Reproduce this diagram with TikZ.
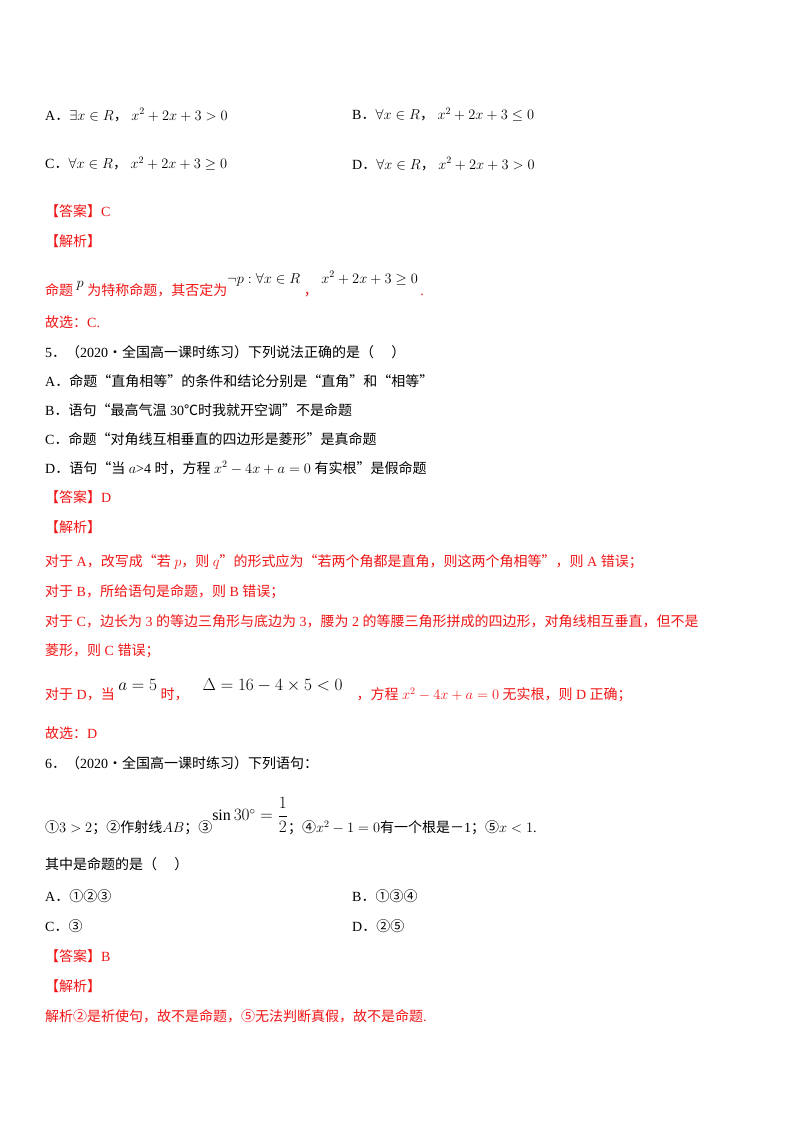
\documentclass[tikz,border=0pt]{standalone}
\usepackage{fontspec}
\setmainfont{Liberation Serif}
\newfontfamily\cjk{Noto Sans CJK SC}
\newcommand\zh[1]{{\cjk #1}}
\newcommand\dt{\zh{．}}
\definecolor{ans}{RGB}{240,20,20}
\begin{document}
\begin{tikzpicture}[x=1pt,y=-1pt,
  t/.style={anchor=west,inner sep=0pt,font=\fontsize{14}{17}\selectfont},
  r/.style={t,text=ans}]
\useasboundingbox (0,0) rectangle (800,1132);
\node[t] (qa) at (45,115) {A\dt$\exists x\in R$\zh{，}\ $x^2+2x+3>0$};
\node[t] (qb) at (352,115) {B\dt$\forall x\in R$\zh{，}\ $x^2+2x+3\le 0$};
\node[t] (qc) at (45,164) {C\dt$\forall x\in R$\zh{，}\ $x^2+2x+3\ge 0$};
\node[t] (qd) at (352,164) {D\dt$\forall x\in R$\zh{，}\ $x^2+2x+3>0$};
\node[r] (a1) at (45,211) {\zh{【答案】}C};
\node[r] (j1) at (45,241) {\zh{【解析】}};
\node[r] (s1) at (45,284) {\zh{命题}\ \raisebox{8pt}{\color{black}$p$}\ \zh{为特称命题，其否定为}\raisebox{12pt}{\color{black}$\neg p:\forall x\in R$}\ \zh{，}\ \raisebox{12pt}{\color{black}$x^2+2x+3\ge 0$}\,.};
\node[r] (g1) at (45,322) {\zh{故选：}C.};
\node[t] (q5) at (45,352) {5\dt\zh{（}2020\zh{·全国高一课时练习）下列说法正确的是（\quad\ ）}};
\node[t] (o5a) at (45,381) {A\dt\zh{命题“直角相等”的条件和结论分别是“直角”和“相等”}};
\node[t] (o5b) at (45,410) {B\dt\zh{语句“最高气温} 30\zh{℃时我就开空调”不是命题}};
\node[t] (o5c) at (45,439) {C\dt\zh{命题“对角线互相垂直的四边形是菱形”是真命题}};
\node[t] (o5d) at (45,468) {D\dt\zh{语句“当} $a$>4 \zh{时，方程} $x^2-4x+a=0$ \zh{有实根”是假命题}};
\node[r] (a2) at (45,497) {\zh{【答案】}D};
\node[r] (j2) at (45,527) {\zh{【解析】}};
\node[r] (s2) at (45,562) {\zh{对于} A\zh{，改写成“若} $p$\zh{，则} $q$\zh{”的形式应为“若两个角都是直角，则这两个角相等”，则} A \zh{错误；}};
\node[r] (s3) at (45,592) {\zh{对于} B\zh{，所给语句是命题，则} B \zh{错误；}};
\node[r] (s4) at (45,621) {\zh{对于} C\zh{，边长为} 3 \zh{的等边三角形与底边为} 3\zh{，腰为} 2 \zh{的等腰三角形拼成的四边形，对角线相互垂直，但不是}};
\node[r] (s5) at (45,651) {\zh{菱形，则} C \zh{错误；}};
\node[r] (s6) at (45,690) {\zh{对于} D\zh{，当}\ \raisebox{9pt}{\color{black}\fontsize{16}{18}\selectfont$a=5$}\ \zh{时，}\quad\raisebox{9pt}{\color{black}\fontsize{16}{18}\selectfont$\Delta=16-4\times5<0$}\quad\zh{，方程} $x^2-4x+a=0$ \zh{无实根，则} D \zh{正确；}};
\node[r] (g2) at (45,733) {\zh{故选：}D};
\node[t] (q6) at (45,763) {6\dt\zh{（}2020\zh{·全国高一课时练习）下列语句：}};
\node[t] (l6) at (45,816) {\zh{①}$3>2$\zh{；②作射线}$AB$\zh{；③}\raisebox{12pt}{\fontsize{16}{18}\selectfont$\sin 30^\circ=\displaystyle\frac{1}{2}$}\zh{；④}$x^2-1=0$\zh{有一个根是－}1\zh{；⑤}$x<1$.};
\node[t] (q6b) at (45,864) {\zh{其中是命题的是（\quad\ ）}};
\node[t] (o6a) at (45,896) {A\dt\zh{①②③}};
\node[t] (o6b) at (352,896) {B\dt\zh{①③④}};
\node[t] (o6c) at (45,926) {C\dt\zh{③}};
\node[t] (o6d) at (352,926) {D\dt\zh{②⑤}};
\node[r] (a3) at (45,956) {\zh{【答案】}B};
\node[r] (j3) at (45,986) {\zh{【解析】}};
\node[r] (s7) at (45,1016) {\zh{解析②是祈使句，故不是命题，⑤无法判断真假，故不是命题}.};
\end{tikzpicture}
\end{document}
